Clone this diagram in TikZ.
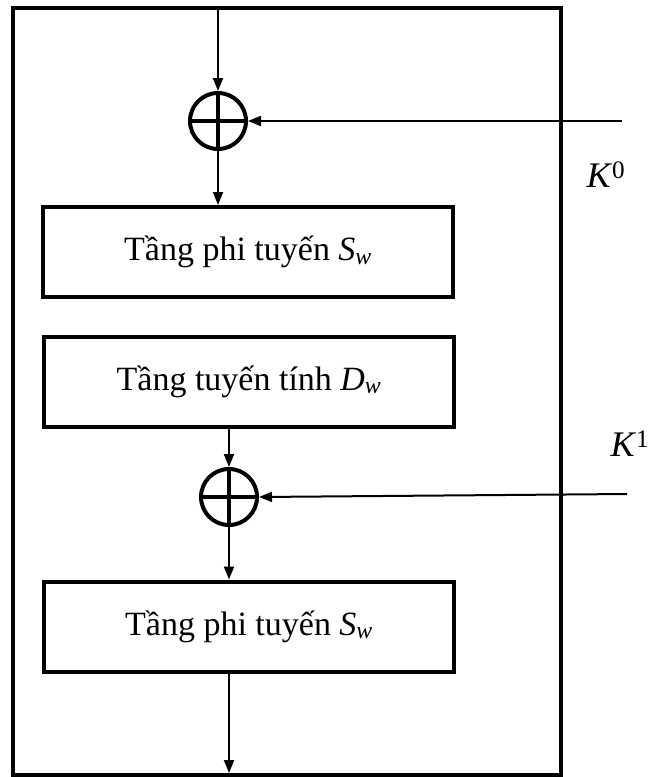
\documentclass[tikz,border=0pt]{standalone}
\usepackage{fontspec}
\setmainfont{Liberation Serif}
\usetikzlibrary{arrows.meta}
\begin{document}
\begin{tikzpicture}[x=1pt,y=-1pt,
  layerbox/.style={draw,line width=4pt,minimum width=410pt,minimum height=90pt,inner sep=0pt,font=\fontsize{34}{40}\selectfont},
  xorop/.style={circle,draw,line width=4pt,minimum size=56pt,inner sep=0pt,
    path picture={\draw[line width=3.5pt] (path picture bounding box.north) -- (path picture bounding box.south)
      (path picture bounding box.west) -- (path picture bounding box.east);}},
  flow/.style={line width=2pt,-{Triangle[length=13pt,width=10pt]}},
  klabel/.style={font=\fontsize{36}{42}\selectfont}]
\useasboundingbox (0,0) rectangle (653,777);
\draw[line width=4pt] (13,8) rectangle (561,775);
\node[layerbox] (b1) at (248,252) {Tầng phi tuyến \textit{S}\textsubscript{\textit{w}}};
\node[layerbox] (b2) at (249,381.5) {Tầng tuyến tính \textit{D}\textsubscript{\textit{w}}};
\node[layerbox] (b3) at (249,626.5) {Tầng phi tuyến \textit{S}\textsubscript{\textit{w}}};
\node[xorop] (c1) at (218,121) {};
\node[xorop] (c2) at (229,497) {};
\coordinate (top) at (218,8);
\coordinate (bot) at (229,773);
\coordinate (k0) at (622,121);
\coordinate (k1) at (627,494);
\draw[flow] (top) -- (c1.north);
\draw[flow] (c1.south) -- (c1.south |- b1.north);
\draw[flow] ([yshift=4pt]c2.north |- b2.south) -- (c2.north);
\draw[flow] (c2.south) -- (c2.south |- b3.north);
\draw[flow] (b3.south -| bot) -- (bot);
\draw[flow] (k0) -- (c1.east);
\draw[flow] (k1) -- (c2.east);
\node[klabel] (l0) at (606,175) {\textit{K}\textsuperscript{0}};
\node[klabel] (l1) at (630,444) {\textit{K}\textsuperscript{1}};
\end{tikzpicture}
\end{document}
